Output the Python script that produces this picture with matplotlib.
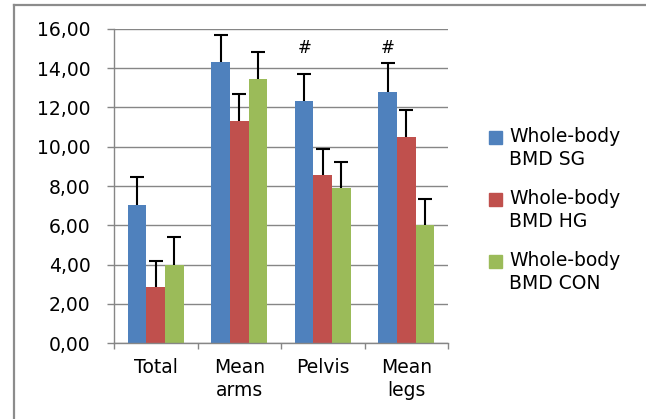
import matplotlib.pyplot as plt
import numpy as np
from matplotlib.patches import Rectangle
from matplotlib.lines import Line2D

# Data
categories = ['Total', 'Mean\narms', 'Pelvis', 'Mean\nlegs']
series_names = ['Whole-body\nBMD SG', 'Whole-body\nBMD HG', 'Whole-body\nBMD CON']
sg_values = [7.05, 14.30, 12.35, 12.80]
hg_values = [2.85, 11.30, 8.55, 10.50]
con_values = [4.00, 13.45, 7.90, 6.00]
sg_err = [1.40, 1.40, 1.35, 1.45]
hg_err = [1.35, 1.40, 1.35, 1.35]
con_err = [1.40, 1.40, 1.30, 1.35]
marked = [False, False, True, True]   # '#' above SG bar
colors = ['#4F81BD', '#C0504D', '#9BBB59']

plt.rcParams['font.family'] = ['DejaVu Sans']
fs = 13.5

fig = plt.figure(figsize=(6.46, 4.19), dpi=100)
ax = fig.add_axes([114 / 646, 1 - 343 / 419, 334 / 646, 314 / 419])

x = np.arange(len(categories))
w = 0.222
values = [sg_values, hg_values, con_values]
errs = [sg_err, hg_err, con_err]
for i, (vals, err) in enumerate(zip(values, errs)):
    pos = x + (i - 1) * w
    vals = np.array(vals)
    tops = vals + np.array(err)
    ax.bar(pos, vals, width=w, color=colors[i], zorder=2)
    # one-sided error bars (upwards only)
    ax.vlines(pos, vals, tops, color='black', linewidth=1.5, zorder=3)
    ax.plot(pos, tops, linestyle='none', marker='_', markersize=10,
            markeredgewidth=1.5, color='black', zorder=3)

for i, m in enumerate(marked):
    if m:
        ax.text(x[i] - w, 15.05, '#', ha='center', va='center', fontsize=12)

ax.set_xlim(-0.5, len(categories) - 0.5)
ax.set_ylim(0, 16)
ax.set_yticks(np.arange(0, 17, 2))
ax.set_yticklabels([f'{v:.2f}'.replace('.', ',') for v in np.arange(0, 17, 2)], fontsize=fs)
ax.set_xticks(x)
ax.set_xticklabels(categories, fontsize=fs, linespacing=1.25)
ax.set_xticks(np.arange(-0.5, len(categories), 1), minor=True)
ax.tick_params(axis='x', which='major', length=0, pad=11)
ax.tick_params(axis='x', which='minor', length=4, color='#868686', width=1)
ax.tick_params(axis='y', length=5, color='#868686', width=1, pad=12)

ax.yaxis.grid(True, color='#868686', linewidth=1, zorder=0)
ax.set_axisbelow(True)
for s in ['top', 'right']:
    ax.spines[s].set_visible(False)
for s in ['left', 'bottom']:
    ax.spines[s].set_color('#868686')
    ax.spines[s].set_linewidth(1)

# legend drawn by hand
for i, name in enumerate(series_names):
    ytop = 1 - (131 + 62 * i) / 419
    fig.patches.append(Rectangle((489 / 646, ytop - 13 / 419), 13 / 646, 13 / 419,
                                 transform=fig.transFigure, color=colors[i]))
    fig.text(509 / 646, 1 - (127 + 62 * i) / 419, name, fontsize=fs, va='top',
             ha='left', linespacing=1.25)

# chart border (top and left)
fig.add_artist(Line2D([14 / 646, 1], [1 - 5.5 / 419, 1 - 5.5 / 419],
                      transform=fig.transFigure, color='#8c8c8c', linewidth=1.6))
fig.add_artist(Line2D([14 / 646, 14 / 646], [0, 1 - 5.5 / 419],
                      transform=fig.transFigure, color='#8c8c8c', linewidth=1.6))

fig.savefig('out.png', dpi=100)
